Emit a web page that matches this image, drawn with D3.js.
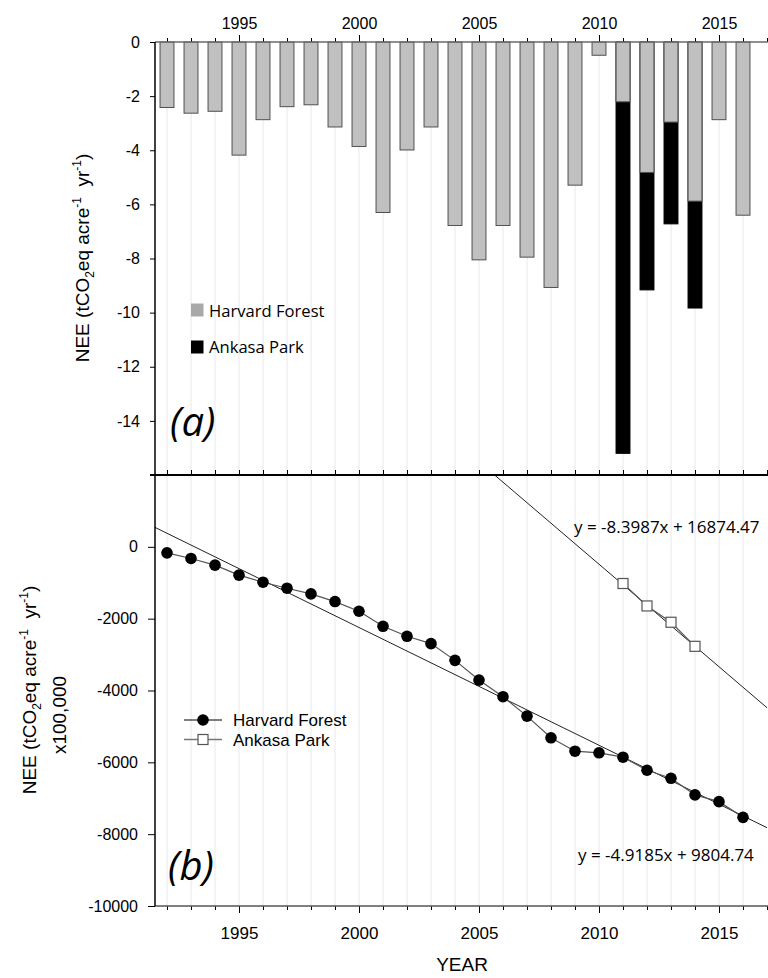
<!DOCTYPE html>
<html>
<head>
<meta charset="utf-8">
<script src="https://cdn.jsdelivr.net/npm/d3@7"></script>
<style>
  html, body { margin: 0; padding: 0; background: #fff; }
  svg { display: block; }
  .arial { font-family: "Liberation Sans", Arial, sans-serif; }
  .cal { font-family: "Open Sans", "Noto Sans", sans-serif; }
</style>
</head>
<body>
<svg id="chart" width="768" height="978"></svg>
<script>
// ---------------- DATA ----------------
const years = [1992,1993,1994,1995,1996,1997,1998,1999,2000,2001,2002,2003,2004,2005,2006,2007,2008,2009,2010,2011,2012,2013,2014,2015,2016];
const harvardAnnual = [-2.42,-2.63,-2.56,-4.18,-2.87,-2.39,-2.32,-3.14,-3.86,-6.30,-3.99,-3.14,-6.78,-8.05,-6.78,-7.95,-9.07,-5.29,-0.49,-2.21,-4.82,-2.96,-5.88,-2.87,-6.40];
const ankasaYears = [2011,2012,2013,2014];
const ankasaAnnual = [-15.2,-9.16,-6.72,-9.83];
const harvardCum = [-167,-324,-510,-789,-985,-1152,-1311,-1524,-1794,-2212,-2491,-2695,-3161,-3710,-4173,-4714,-5317,-5690,-5735,-5857,-6220,-6444,-6907,-7094,-7532];
const ankasaCum = [-1021,-1646,-2100,-2770];
const harvardTrendYears = [1991.5, 2017];
const harvardTrendVals = [541, -7820];
const ankasaTrendYears = [2005.6, 2017];
const ankasaTrendVals = [2028, -4480];
const tickYears = [1992,1993,1994,1995,1996,1997,1998,1999,2000,2001,2002,2003,2004,2005,2006,2007,2008,2009,2010,2011,2012,2013,2014,2015,2016,2017];
const majorYears = [1995,2000,2005,2010,2015];
const yTicksA = [0,-2,-4,-6,-8,-10,-12,-14];
const yTicksB = [0,-2000,-4000,-6000,-8000,-10000];
const seriesNames = ["Harvard Forest","Ankasa Park"];
const eqAnkasa = "y = -8.3987x + 16874.47";
const eqHarvard = "y = -4.9185x + 9804.74";

// ---------------- SCALES ----------------
const svg = d3.select("#chart");
const x = d3.scaleLinear().domain([1991.5, 2017]).range([155, 767]);
const yA = d3.scaleLinear().domain([-16, 0]).range([475, 42]);
const yB = d3.scaleLinear().domain([-10000, 2000]).range([906, 475]);
const bw = (x(1993) - x(1992)) * 0.58;

// gridlines
svg.append("g").selectAll("line").data(years).join("line")
  .attr("x1", d => x(d)).attr("x2", d => x(d))
  .attr("y1", yA(0)).attr("y2", yB(-10000))
  .attr("stroke", "#e8e8e8").attr("stroke-width", 1);

// ---------------- PANEL A ----------------
const ank = ankasaYears.map((y, i) => ({year: y, v: ankasaAnnual[i]}));
svg.append("g").selectAll("rect").data(ank).join("rect")
  .attr("x", d => x(d.year) - bw / 2).attr("width", bw)
  .attr("y", yA(0)).attr("height", d => yA(d.v) - yA(0))
  .attr("fill", "#000").attr("stroke", "#000").attr("stroke-width", 1);

const harv = years.map((y, i) => ({year: y, v: harvardAnnual[i]}));
svg.append("g").selectAll("rect").data(harv).join("rect")
  .attr("x", d => x(d.year) - bw / 2).attr("width", bw)
  .attr("y", yA(0)).attr("height", d => yA(d.v) - yA(0))
  .attr("fill", "#c0c0c0").attr("stroke", "#505050").attr("stroke-width", 1);

// top axis (zero line)
const gTop = svg.append("g").attr("transform", `translate(0,${yA(0)})`);
gTop.call(d3.axisTop(x).tickValues(tickYears).tickSize(4).tickFormat(""));
gTop.select(".domain").remove();
const gTopMaj = svg.append("g").attr("transform", `translate(0,${yA(0)})`).attr("class", "arial");
gTopMaj.call(d3.axisTop(x).tickValues(majorYears).tickSize(7).tickPadding(6).tickFormat(d => String(d)));
gTopMaj.select(".domain").remove();
gTopMaj.selectAll("text").attr("font-size", 16).attr("fill", "#000").attr("font-family", "Liberation Sans, Arial, sans-serif");
svg.append("line").attr("x1", x.range()[0]).attr("x2", 768).attr("y1", yA(0)).attr("y2", yA(0))
  .attr("stroke", "#6a6a6a").attr("stroke-width", 1.5);

// left axis A
const gLA = svg.append("g").attr("transform", `translate(${x.range()[0]},0)`);
gLA.call(d3.axisLeft(yA).tickValues(yTicksA).tickSize(5).tickPadding(10).tickFormat(d => String(d)));
gLA.select(".domain").remove();
gLA.selectAll("text").attr("font-size", 16).attr("fill", "#000").attr("font-family", "Liberation Sans, Arial, sans-serif");

// legend A
const legA = svg.append("g").attr("class", "cal");
legA.append("rect").attr("x", 191).attr("y", 303.5).attr("width", 12.5).attr("height", 13).attr("fill", "#a9a9a9");
legA.append("text").attr("x", 209).attr("y", 316.5).attr("font-size", 16.6).text(seriesNames[0]);
legA.append("rect").attr("x", 191).attr("y", 340.5).attr("width", 12.5).attr("height", 13).attr("fill", "#000");
legA.append("text").attr("x", 209).attr("y", 353.3).attr("font-size", 16.6).text(seriesNames[1]);

svg.append("text").attr("class", "cal").attr("x", 170).attr("y", 436)
  .attr("font-size", 40).attr("font-style", "italic").text("(a)");

// y title
function yTitle(xp, yp) {
  const t = svg.append("text").attr("class", "arial")
    .attr("transform", `translate(${xp},${yp}) rotate(-90)`)
    .attr("text-anchor", "middle").attr("font-size", 19);
  t.append("tspan").text("NEE (tCO");
  t.append("tspan").attr("font-size", 12).attr("dy", 5).text("2");
  t.append("tspan").attr("dy", -5).text("eq acre");
  t.append("tspan").attr("font-size", 12).attr("dy", -8).text("-1");
  t.append("tspan").attr("dy", 8).text("\u00a0 yr");
  t.append("tspan").attr("font-size", 12).attr("dy", -8).text("-1");
  t.append("tspan").attr("dy", 8).text(")");
  return t;
}
yTitle(89, 258);

// ---------------- PANEL B ----------------
svg.append("defs").append("clipPath").attr("id", "clipB")
  .append("rect").attr("x", x.range()[0]).attr("y", yB(2000)).attr("width", 768 - x.range()[0]).attr("height", yB(-10000) - yB(2000));

const line = d3.line().x(d => x(d[0])).y(d => yB(d[1]));
const gB = svg.append("g").attr("clip-path", "url(#clipB)");

gB.append("path").datum(harvardTrendYears.map((y, i) => [y, harvardTrendVals[i]]))
  .attr("d", line).attr("fill", "none").attr("stroke", "#222").attr("stroke-width", 1);
gB.append("path").datum(ankasaTrendYears.map((y, i) => [y, ankasaTrendVals[i]]))
  .attr("d", line).attr("fill", "none").attr("stroke", "#222").attr("stroke-width", 1);

const hPts = years.map((y, i) => [y, harvardCum[i]]);
const aPts = ankasaYears.map((y, i) => [y, ankasaCum[i]]);
gB.append("path").datum(hPts).attr("d", line).attr("fill", "none").attr("stroke", "#555").attr("stroke-width", 1.2);
gB.append("path").datum(aPts).attr("d", line).attr("fill", "none").attr("stroke", "#555").attr("stroke-width", 1.2);

gB.append("g").selectAll("circle").data(hPts).join("circle")
  .attr("cx", d => x(d[0])).attr("cy", d => yB(d[1])).attr("r", 5.8).attr("fill", "#000");
gB.append("g").selectAll("rect").data(aPts).join("rect")
  .attr("x", d => x(d[0]) - 5).attr("y", d => yB(d[1]) - 5).attr("width", 10).attr("height", 10)
  .attr("fill", "#fff").attr("stroke", "#555").attr("stroke-width", 1.2);

// separator axis between panels
const gMid = svg.append("g").attr("transform", `translate(0,${yA(-16)})`);
gMid.call(d3.axisTop(x).tickValues(tickYears).tickSize(5).tickFormat(""));
gMid.select(".domain").remove();
svg.append("line").attr("x1", 150).attr("x2", 768).attr("y1", yA(-16)).attr("y2", yA(-16))
  .attr("stroke", "#000").attr("stroke-width", 2);

// bottom axis
const gBot = svg.append("g").attr("transform", `translate(0,${yB(-10000)})`);
gBot.call(d3.axisBottom(x).tickValues(tickYears).tickSize(4).tickFormat(""));
gBot.select(".domain").remove();
const gBotMaj = svg.append("g").attr("transform", `translate(0,${yB(-10000)})`);
gBotMaj.call(d3.axisBottom(x).tickValues(majorYears).tickSize(7).tickPadding(14).tickFormat(d => String(d)));
gBotMaj.select(".domain").remove();
gBotMaj.selectAll("text").attr("font-size", 17).attr("fill", "#000").attr("font-family", "Liberation Sans, Arial, sans-serif");
svg.append("line").attr("x1", x.range()[0]).attr("x2", 768).attr("y1", yB(-10000)).attr("y2", yB(-10000))
  .attr("stroke", "#555").attr("stroke-width", 1.5);

// left axis B
const gLB = svg.append("g").attr("transform", `translate(${x.range()[0]},0)`);
gLB.call(d3.axisLeft(yB).tickValues(yTicksB).tickSize(7).tickPadding(10).tickFormat(d => String(d)));
gLB.select(".domain").remove();
gLB.selectAll("text").attr("font-size", 16).attr("fill", "#000").attr("font-family", "Liberation Sans, Arial, sans-serif");

// full left axis line
svg.append("line").attr("x1", x.range()[0]).attr("x2", x.range()[0]).attr("y1", yA(0)).attr("y2", yB(-10000))
  .attr("stroke", "#000").attr("stroke-width", 1.5);

// legend B
const legB = svg.append("g").attr("class", "arial");
legB.append("line").attr("x1", 184).attr("x2", 222).attr("y1", 720).attr("y2", 720).attr("stroke", "#000").attr("stroke-width", 1.2);
legB.append("circle").attr("cx", 203).attr("cy", 720).attr("r", 5.8).attr("fill", "#000");
legB.append("text").attr("x", 233).attr("y", 726).attr("font-size", 17).text(seriesNames[0]);
legB.append("line").attr("x1", 184).attr("x2", 222).attr("y1", 739.5).attr("y2", 739.5).attr("stroke", "#777").attr("stroke-width", 1.5);
legB.append("rect").attr("x", 198).attr("y", 734.5).attr("width", 10).attr("height", 10).attr("fill", "#fff").attr("stroke", "#555").attr("stroke-width", 1.2);
legB.append("text").attr("x", 233).attr("y", 745.5).attr("font-size", 17).text(seriesNames[1]);

// equations
svg.append("text").attr("class", "cal").attr("x", 574).attr("y", 533).attr("font-size", 17).text(eqAnkasa);
svg.append("text").attr("class", "cal").attr("x", 578).attr("y", 861).attr("font-size", 17).text(eqHarvard);

svg.append("text").attr("class", "cal").attr("x", 168).attr("y", 880)
  .attr("font-size", 40).attr("font-style", "italic").text("(b)");

// y title B
yTitle(36, 690);
svg.append("text").attr("class", "arial")
  .attr("transform", `translate(66,715) rotate(-90)`)
  .attr("text-anchor", "middle").attr("font-size", 19).text("x100,000");

// x title
svg.append("text").attr("class", "arial").attr("x", 462).attr("y", 971)
  .attr("text-anchor", "middle").attr("font-size", 19).text("YEAR");
</script>
</body>
</html>
